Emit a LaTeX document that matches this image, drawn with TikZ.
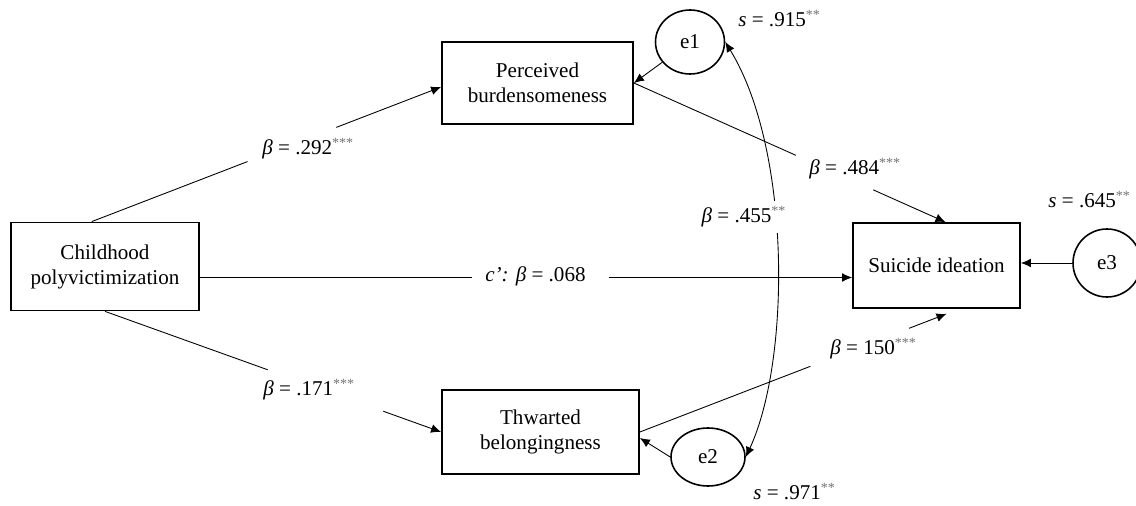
\documentclass[tikz,border=0pt]{standalone}
\usepackage{fontspec}
\setmainfont{Liberation Serif}
\usetikzlibrary{arrows.meta,shapes.geometric,calc}
\newcommand{\stars}[1]{\textsuperscript{\textcolor{black!55}{#1}}}
\newcommand{\bt}{\textit{β}}
\begin{document}
\begin{tikzpicture}[x=0.02cm,y=-0.02cm,
  font=\fontsize{12}{14.2}\selectfont,
  box/.style={draw,line width=1pt,align=center,inner sep=0pt},
  err/.style={draw,ellipse,line width=0.9pt,inner sep=0pt},
  conn/.style={line width=0.5pt},
  arr/.style={conn,-{Latex[length=5.7pt,width=5pt]}},
  darr/.style={conn,{Latex[length=5.7pt,width=5pt]}-{Latex[length=5.7pt,width=5pt]}},
  lab/.style={anchor=base west,inner sep=0pt}]
\useasboundingbox (0,0) rectangle (1136,506);
% boxes
\node[box,minimum width=188*0.02cm,minimum height=88*0.02cm] (cp) at (105,266.5) {Childhood\\polyvictimization};
\node[box,minimum width=191*0.02cm,minimum height=82*0.02cm] (pb) at (537.5,83) {Perceived\\burdensomeness};
\node[box,minimum width=197*0.02cm,minimum height=84*0.02cm] (tb) at (540.5,432) {Thwarted\\belongingness};
\node[box,minimum width=167*0.02cm,minimum height=85*0.02cm] (si) at (936.5,265.5) {Suicide ideation};
% error terms
\node[err,minimum width=69*0.02cm,minimum height=64*0.02cm] (e1) at (690,42) {e1};
\node[err,minimum width=74*0.02cm,minimum height=58*0.02cm] (e2) at (708,457) {e2};
\node[err,minimum width=68*0.02cm,minimum height=68*0.02cm] (e3) at (1107,263) {e3};
% end points
\coordinate (cp-t) at ($(cp.north west)!0.43!(cp.north east)$);
\coordinate (pb-l) at ($(pb.west)+(0,4)$);
\coordinate (cp-r) at ($(cp.east)+(0,11)$);
\coordinate (si-l) at ($(si.west)+(0,12)$);
\coordinate (si-t) at ($(si.north)+(9,0)$);
\coordinate (si-b) at ($(si.south)+(10,5)$);
\coordinate (tb-r) at ($(tb.east)+(0,6)$);
% paths with gaps
\path (cp-t) -- (pb-l) coordinate[pos=0.446] (g1a) coordinate[pos=0.70] (g1b);
\draw[conn] (cp-t) -- (g1a);
\draw[arr] (g1b) -- (pb-l);
\path (cp.south) -- (tb.west) coordinate[pos=0.484] (g2a) coordinate[pos=0.828] (g2b);
\draw[conn] (cp.south) -- (g2a);
\draw[arr] (g2b) -- (tb.west);
\path (cp-r) -- (si-l) coordinate[pos=0.417] (g3a) coordinate[pos=0.627] (g3b);
\draw[conn] (cp-r) -- (g3a);
\draw[arr] (g3b) -- (si-l);
\path (pb.east) -- (si-t) coordinate[pos=0.52] (g4a) coordinate[pos=0.768] (g4b);
\draw[conn] (pb.east) -- (g4a);
\draw[arr] (g4b) -- (si-t);
\path (tb.east) -- (si-b) coordinate[pos=0.556] (g5a) coordinate[pos=0.878] (g5b);
\draw[conn] (tb.east) -- (g5a);
\draw[arr] (g5b) -- (si-b);
% error arrows
\draw[arr] (e1) -- (pb.east);
\draw[arr] (e2.west) -- (tb-r);
\draw[arr] (e3.west) -- (e3.west -| si.east);
\draw[darr] (e1.east) .. controls +(66,108) and +(45,-97) .. (e2.east);
% labels
\node[lab] (l292) at (262,155) {\bt{} = .292\stars{***}};
\node[lab] (l484) at (809,175) {\bt{} = .484\stars{***}};
\node[lab,fill=white,inner sep=3pt] (l455) at (696,223) {\bt{} = .455\stars{**}};
\node[lab] (l068) at (485,282) {\textit{c’:} \bt{} = .068};
\node[lab] (l171) at (263,396) {\bt{} = .171\stars{***}};
\node[lab] (l150) at (830,355) {\bt{} = 150\stars{***}};
\node[lab] (s915) at (738,27) {\textit{s} = .915\stars{**}};
\node[lab] (s971) at (753,500) {\textit{s} = .971\stars{**}};
\node[lab] (s645) at (1048,208) {\textit{s} = .645\stars{**}};
\end{tikzpicture}
\end{document}
